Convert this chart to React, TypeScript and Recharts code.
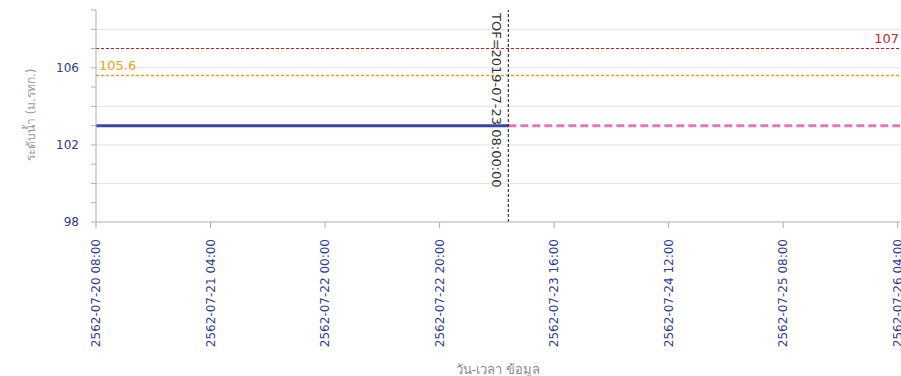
import React from 'react';
import {
  LineChart,
  Line,
  XAxis,
  YAxis,
  CartesianGrid,
  ReferenceLine,
  Label,
} from 'recharts';

// hours counted from 2562-07-20 08:00
const xTickHours = [0, 20, 40, 60, 80, 100, 120, 140];
const xTickLabels = [
  '2562-07-20 08:00',
  '2562-07-21 04:00',
  '2562-07-22 00:00',
  '2562-07-22 20:00',
  '2562-07-23 16:00',
  '2562-07-24 12:00',
  '2562-07-25 08:00',
  '2562-07-26 04:00',
];

const obsHours = [0, 12, 24, 36, 48, 60, 72];
const obsLevel = [103, 103, 103, 103, 103, 103, 103];

const fcHours = [72, 96, 120, 144];
const fcLevel = [103, 103, 103, 103];

const yTicks = [98, 99, 100, 101, 102, 103, 104, 105, 106, 107, 108, 109];
const yLabelled = [98, 102, 106];
const gridLevels = [100, 102, 104, 106, 108];

const bankLevel = 107;
const warnLevel = 105.6;
const tofHour = 72;
const tofText = 'TOF=2019-07-23 08:00:00';

const FONT = 'DejaVu Sans, Verdana, sans-serif';
const TICK_BLUE = '#2e3a94';

const obsData = obsHours.map((h, i) => ({ h, v: obsLevel[i] }));
const fcData = fcHours.map((h, i) => ({ h, v: fcLevel[i] }));

const XTick = ({ x, y, payload }: any) => {
  const idx = xTickHours.indexOf(payload.value);
  const ty = y + 9;
  return (
    <text
      x={x}
      y={ty}
      transform={`rotate(-90 ${x} ${ty})`}
      textAnchor="end"
      dy="0.35em"
      fill={TICK_BLUE}
      fontSize={12}
      fontFamily={FONT}
    >
      {idx >= 0 ? xTickLabels[idx] : ''}
    </text>
  );
};

const TofLabel = ({ viewBox }: any) => {
  const x = viewBox.x - 16;
  const y = viewBox.y + 3;
  return (
    <text
      x={x}
      y={y}
      transform={`rotate(90 ${x} ${y})`}
      textAnchor="start"
      fill="#333"
      fontSize={13}
      fontFamily={FONT}
    >
      {tofText}
    </text>
  );
};

const LevelLabel = ({ viewBox, text, color, side }: any) => {
  const right = side === 'right';
  return (
    <text
      x={right ? viewBox.x + viewBox.width - 1 : viewBox.x + 3}
      y={viewBox.y - 6}
      textAnchor={right ? 'end' : 'start'}
      fill={color}
      fontSize={13}
      fontFamily={FONT}
    >
      {text}
    </text>
  );
};

const App: React.FC = () => {
  return (
    <div style={{ position: 'absolute', left: 0, top: 0, background: '#fff' }}>
      <LineChart
        width={901}
        height={376}
        margin={{ top: 10, right: 1, left: 0, bottom: 0 }}
      >
        <CartesianGrid
          vertical={false}
          horizontalValues={gridLevels}
          stroke="#e2e2e2"
          strokeWidth={1}
        />
        <XAxis
          type="number"
          dataKey="h"
          domain={[0, 140.4]}
          ticks={xTickHours}
          allowDataOverflow
          height={154}
          tick={<XTick />}
          tickSize={6}
          stroke="#b0b0b0"
          interval={0}
        >
          <Label
            content={() => (
              <text
                x={498}
                y={374}
                textAnchor="middle"
                fill="#8a8a8a"
                fontSize={13}
                fontFamily={FONT}
              >
                วัน-เวลา ข้อมูล
              </text>
            )}
          />
        </XAxis>
        <YAxis
          type="number"
          domain={[98, 109]}
          ticks={yTicks}
          width={96}
          interval={0}
          tickSize={5}
          tickMargin={12}
          stroke="#b0b0b0"
          tick={{ fill: TICK_BLUE, fontSize: 12, fontFamily: FONT }}
          tickFormatter={(v: number) => (yLabelled.includes(v) ? String(v) : '')}
        >
          <Label
            content={() => (
              <text
                x={35}
                y={115}
                transform="rotate(-90 35 115)"
                textAnchor="middle"
                fill="#9a9a9a"
                fontSize={12}
                fontFamily={FONT}
              >
                ระดับน้ำ (ม.รทก.)
              </text>
            )}
          />
        </YAxis>
        <ReferenceLine
          y={bankLevel}
          stroke="#cc1111"
          strokeDasharray="3 2"
          label={<LevelLabel text={String(bankLevel)} color="#c42a2a" side="right" />}
        />
        <ReferenceLine
          y={warnLevel}
          stroke="#f59a1a"
          strokeWidth={1.5}
          strokeDasharray="3 2"
          label={<LevelLabel text={String(warnLevel)} color="#e2a818" side="left" />}
        />
        <Line
          data={obsData}
          dataKey="v"
          type="linear"
          stroke="#3a46a6"
          strokeWidth={3}
          dot={false}
          isAnimationActive={false}
        />
        <Line
          data={fcData}
          dataKey="v"
          type="linear"
          stroke="#e274c2"
          strokeWidth={3}
          strokeDasharray="8 4"
          dot={false}
          isAnimationActive={false}
        />
        <ReferenceLine
          x={tofHour}
          stroke="#111"
          strokeDasharray="3 2"
          label={<TofLabel />}
        />
      </LineChart>
    </div>
  );
};

export default App;
